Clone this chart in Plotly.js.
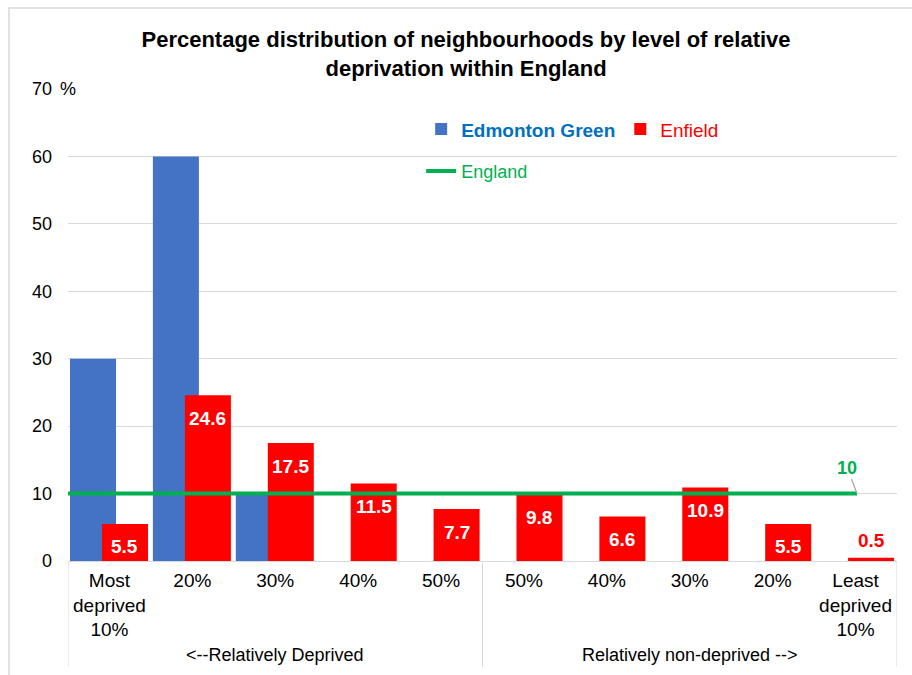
<!DOCTYPE html>
<html>
<head>
<meta charset="utf-8">
<script src="https://cdn.plot.ly/plotly-3.0.1.min.js"></script>
<style>html,body{margin:0;padding:0;background:#fff;}#chart{width:912px;height:675px;}</style>
</head>
<body>
<div id="chart"></div>
<script>
// ---- data ----
const groupLabels = ['&lt;--Relatively Deprived', 'Relatively non-deprived -->'];
const groupCentres = [3, 8];
const groupEdges = [0.5, 5.5, 10.5];
const decileLabels = ['Most<br>deprived<br>10%','20%','30%','40%','50%','50%','40%','30%','20%','Least<br>deprived<br>10%'];
const decileIndex = [1,2,3,4,5,6,7,8,9,10];
const edmontonGreen = [30,60,10,0,0,0,0,0,0,0];
const enfield = [5.5,24.6,17.5,11.5,7.7,9.8,6.6,10.9,5.5,0.5];
const england = [10,10,10,10,10,10,10,10,10,10];
const yTickVals = [0,10,20,30,40,50,60,70];
const yTickText = ['0','10','20','30','40','50','60','70'];

const FONT = 'Liberation Sans, Arial, sans-serif';
const GRID = '#d9d9d9';

const traces = [
  {
    type: 'bar', name: '<span style="color:#0070C0"><b>Edmonton Green</b></span>',
    x: decileIndex, y: edmontonGreen,
    marker: {color: '#4472C4'}, offset: -0.476, width: 0.555,
    legend: 'legend', hoverinfo: 'skip'
  },
  {
    type: 'bar', name: 'Enfield', x: decileIndex, y: enfield,
    marker: {color: '#FF0000'}, offset: -0.09, width: 0.555,
    legend: 'legend', hoverinfo: 'skip'
  },
  {
    type: 'scatter', mode: 'lines', name: 'England', x: decileIndex, y: england,
    xaxis: 'x2', yaxis: 'y',
    line: {color: '#00B050', width: 4},
    legend: 'legend2', hoverinfo: 'skip'
  }
];

const last = enfield.length - 1;
const barLabels = enfield.map((v, i) => ({
  xref: 'x', yref: 'y', x: decileIndex[i], y: v,
  xshift: 15.5, yshift: i === last ? 17 : -23,
  text: '<b>' + v.toFixed(1) + '</b>', showarrow: false,
  xanchor: 'center', yanchor: 'middle',
  font: {family: FONT, size: 19, color: i === last ? '#FF0000' : '#FFFFFF'}
}));

const groupAnnots = groupLabels.map((g, i) => ({
  xref: 'x', yref: 'paper', x: groupCentres[i], y: -0.199,
  text: g, showarrow: false, xanchor: 'center', yanchor: 'middle',
  font: {family: FONT, size: 18, color: '#000'}
}));

const dividers = groupEdges.map(e => ({
  type: 'line', xref: 'x', yref: 'paper', x0: e, x1: e, y0: 0, y1: -0.2246,
  line: {color: GRID, width: 1}
}));

const layout = {
  width: 912, height: 675,
  paper_bgcolor: '#fff', plot_bgcolor: '#fff',
  margin: {l: 68, r: 15, t: 89, b: 114},
  font: {family: FONT, size: 17, color: '#000'},
  title: {
    text: '<b>Percentage distribution of neighbourhoods by level of relative<br>deprivation within England</b>',
    font: {family: FONT, size: 22, color: '#000'},
    x: 0.511, xanchor: 'center', yref: 'container', y: 0.93, yanchor: 'top'
  },
  barmode: 'overlay',
  showlegend: true,
  legend: {
    orientation: 'h', x: 0.426, xanchor: 'left', y: 0.955, yanchor: 'top',
    bgcolor: 'rgba(255,255,255,0)', font: {family: FONT, size: 19, color: '#FF0000'}
  },
  legend2: {
    orientation: 'h', x: 0.426, xanchor: 'left', y: 0.865, yanchor: 'top',
    bgcolor: 'rgba(255,255,255,0)', font: {family: FONT, size: 18, color: '#00B050'}
  },
  xaxis: {
    type: 'linear', range: [0.5, 10.5],
    tickvals: decileIndex, ticktext: decileLabels,
    showgrid: false, zeroline: false,
    showline: true, linecolor: GRID, linewidth: 1,
    ticks: '', ticklabelstandoff: 2,
    tickfont: {family: FONT, size: 19, color: '#000'}
  },
  xaxis2: {
    overlaying: 'x', type: 'linear', visible: false,
    range: [1, 10.456]
  },
  yaxis: {
    range: [0, 70], tickvals: yTickVals, ticktext: yTickText,
    showgrid: true, gridcolor: GRID, gridwidth: 1,
    zeroline: false, showline: false, ticks: '',
    tickfont: {family: FONT, size: 18, color: '#000'},
    ticklabelstandoff: 15
  },
  shapes: [
    {type: 'rect', xref: 'paper', yref: 'y', x0: 0.416, x1: 0.9385, y0: 58, y1: 62,
     fillcolor: '#fff', line: {width: 0}, layer: 'between'},
    {type: 'rect', xref: 'paper', yref: 'paper', x0: -0.0712, x1: 1.05, y0: -0.3, y1: 1.1716,
     fillcolor: 'rgba(0,0,0,0)', line: {color: GRID, width: 1.5}, layer: 'below'}
  ].concat(dividers),
  annotations: [
    {xref: 'x2', yref: 'y', x: decileIndex[last], y: england[last],
     text: '<b>' + england[last] + '</b>', showarrow: true, arrowhead: 0,
     arrowcolor: '#a6a6a6', arrowwidth: 1.2, ax: -10, ay: -26,
     font: {family: FONT, size: 18, color: '#00B050'}},
    {xref: 'paper', yref: 'y', x: 0.0, y: yTickVals[yTickVals.length - 1],
     text: '%', showarrow: false, xanchor: 'center', yanchor: 'middle',
     bgcolor: '#fff',
     font: {family: FONT, size: 18, color: '#000'}}
  ].concat(barLabels, groupAnnots)
};

Plotly.newPlot('chart', traces, layout, {displayModeBar: false, staticPlot: true});
</script>
</body>
</html>
